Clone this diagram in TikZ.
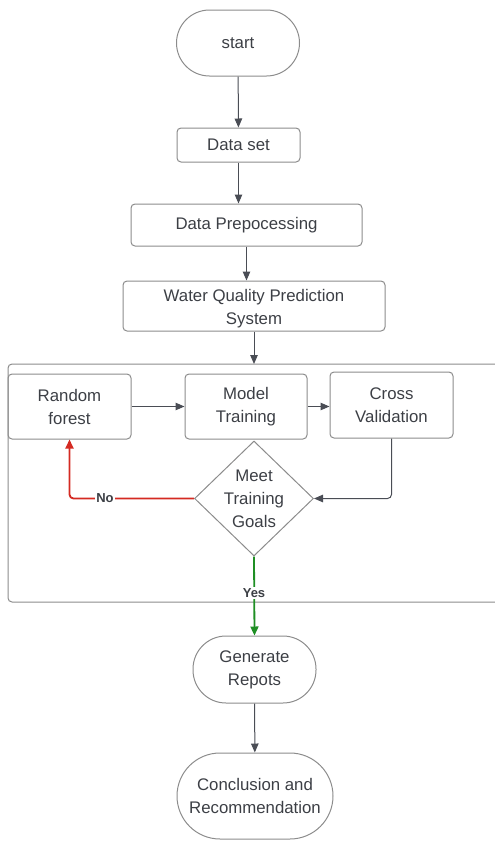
\documentclass[tikz,border=0pt]{standalone}
\usepackage{fontspec}
\setmainfont{Liberation Sans}
\usetikzlibrary{arrows.meta,shapes.geometric}
\definecolor{txt}{HTML}{3C3F45}
\definecolor{bord}{HTML}{8C8C8C}
\definecolor{arr}{HTML}{4A4D55}
\definecolor{nored}{HTML}{D42A22}
\definecolor{yesgreen}{HTML}{1F8F24}
\begin{document}
\begin{tikzpicture}[x=1pt,y=-1pt,
  font=\fontsize{16.8}{23}\selectfont, text=txt,
  box/.style={draw=bord, line width=1pt, rounded corners=4pt, align=center, inner sep=0pt},
  pill/.style={box, rounded corners=#1},
  flow/.style={draw=arr, line width=1pt, -{Triangle[length=9pt,width=7.5pt]}},
  lbl/.style={font=\fontsize{13}{15}\bfseries\selectfont, fill=white, inner sep=1pt, text=txt}]
\useasboundingbox (0,0) rectangle (495,844);
% container
\draw[draw=bord, line width=1pt, rounded corners=4pt] (8,364) rectangle (510,602);
\coordinate (ctop) at (254,364);
% nodes
\node[pill=33pt, minimum width=123pt, minimum height=66pt] (start) at (238,43) {start};
\node[box, minimum width=123pt, minimum height=34pt] (ds) at (238.5,145) {Data set};
\node[box, minimum width=231pt, minimum height=42pt] (dp) at (246.5,225) {Data Prepocessing};
\node[box, minimum width=262pt, minimum height=50pt] (wq) at (254,306) {};
\node[align=center] at (254,309) {Water Quality Prediction\\System};
\node[box, minimum width=123pt, minimum height=65pt] (rf) at (69.5,406.5) {Random\\forest};
\node[box, minimum width=122pt, minimum height=65pt] (mt) at (246,406.5) {Model\\Training};
\node[box, minimum width=123pt, minimum height=66pt] (cv) at (391.5,405) {Cross\\Validation};
\node[draw=bord, line width=1pt, diamond, aspect=1, inner sep=0pt, minimum width=119pt, minimum height=115pt] (dm) at (254,498.5) {};
\node[align=center] at (dm.center) {Meet\\Training\\Goals};
\node[pill=33pt, minimum width=123pt, minimum height=67pt] (gr) at (254.5,669.5) {Generate\\Repots};
\node[pill=43pt, minimum width=156pt, minimum height=86pt] (cr) at (255,796) {Conclusion and\\Recommendation};
% connectors
\draw[flow] (start) -- (ds);
\draw[flow] (ds) -- (ds|-dp.north);
\draw[flow] (dp.south) -- (dp.south|-wq.north);
\draw[flow] (wq.south-|ctop) -- (ctop);
\draw[flow] (rf.east|-mt.east) -- (mt.east-|mt.west);
\draw[flow] (mt.east) -- (cv.west|-mt.east);
\draw[flow, rounded corners=4pt] (cv.south) -- (cv.south|-dm.east) -- (dm.east);
\draw[flow, draw=nored, line width=1.8pt, -{Triangle[length=9pt,width=8pt]}, rounded corners=4pt] (dm.west) -- (rf.south|-dm.west) -- (rf.south);
\node[lbl] at (105,498.5) {No};
\draw[flow, draw=yesgreen, line width=1.8pt, -{Triangle[length=9pt,width=8pt]}] (dm.south) -- (gr.north);
\node[lbl] at (254,593) {Yes};
\draw[flow] (gr) -- (cr);
\end{tikzpicture}
\end{document}
